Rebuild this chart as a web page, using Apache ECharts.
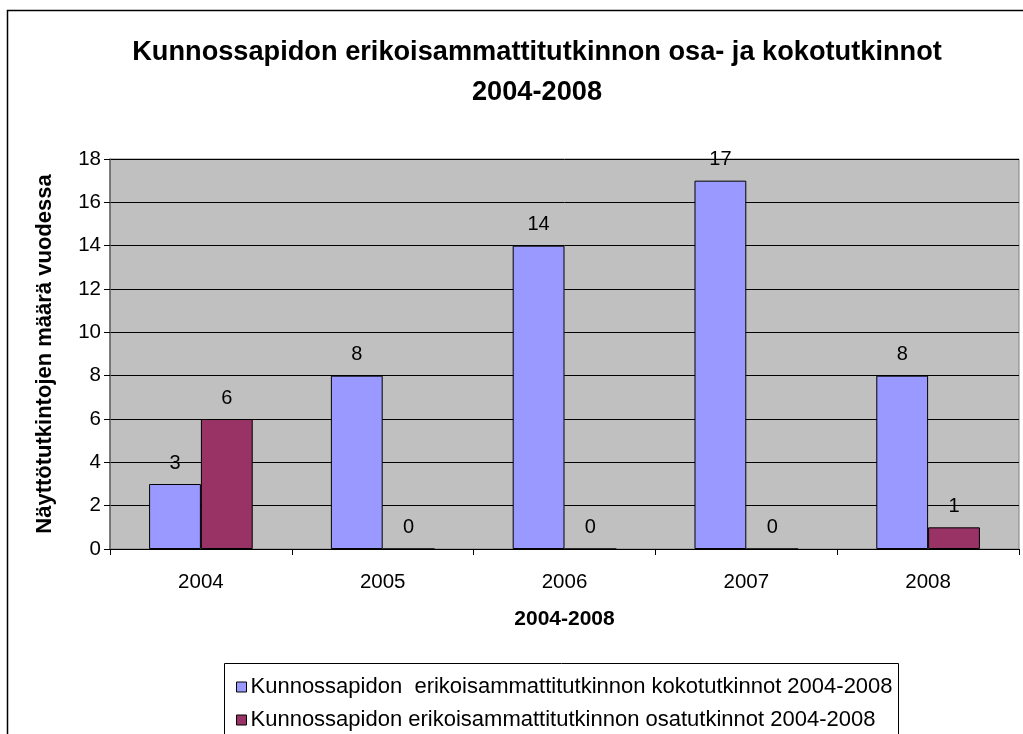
<!DOCTYPE html>
<html>
<head>
<meta charset="utf-8">
<script src="https://cdn.jsdelivr.net/npm/echarts@6/dist/echarts.min.js"></script>
<style>
html,body{margin:0;padding:0;background:#fff;}
#chart{width:1023px;height:734px;}
</style>
</head>
<body>
<div id="chart"></div>
<script>
const categories = ['2004', '2005', '2006', '2007', '2008'];
const kokoValues = [3, 8, 14, 17, 8];
const osaValues = [6, 0, 0, 0, 1];
const seriesNames = [
  'Kunnossapidon  erikoisammattitutkinnon kokotutkinnot 2004-2008',
  'Kunnossapidon erikoisammattitutkinnon osatutkinnot 2004-2008'
];
const titleText = 'Kunnossapidon erikoisammattitutkinnon osa- ja kokotutkinnot\n2004-2008';
const yAxisName = 'Näyttötutkintojen määrä vuodessa';
const xAxisName = '2004-2008';

const chart = echarts.init(document.getElementById('chart'), null, {renderer: 'canvas'});
const font = 'Liberation Sans, Arial, sans-serif';
const labelCfg = {show: true, position: 'top', distance: 11, color: '#000', fontSize: 20, fontFamily: font};
const legendBase = {
  orient: 'vertical', left: 231,
  itemWidth: 10, itemHeight: 10,
  textStyle: {fontFamily: font, fontSize: 22, color: '#000', padding: [0, 0, 0, -1]}
};

chart.setOption({
  backgroundColor: '#fff',
  animation: false,
  title: {
    text: titleText,
    left: 532, top: 28, textAlign: 'center',
    textStyle: {fontFamily: font, fontSize: 27.2, fontWeight: 'bold', color: '#000', lineHeight: 40}
  },
  grid: {left: 110, right: 4, top: 159, bottom: 185, show: true, backgroundColor: '#C0C0C0', borderColor: '#808080', borderWidth: 1},
  legend: seriesNames.map((n, i) => Object.assign({}, legendBase, {
    top: 671 + i * 33,
    data: [{name: n, icon: 'rect', itemStyle: {borderColor: '#000', borderWidth: 1}}]
  })),
  xAxis: {
    type: 'category', data: categories,
    name: xAxisName, nameLocation: 'middle', nameGap: 60,
    nameTextStyle: {fontFamily: font, fontSize: 21, fontWeight: 'bold', color: '#000'},
    axisLine: {lineStyle: {color: '#000', width: 1}},
    axisTick: {show: true, length: 6, lineStyle: {color: '#000'}},
    axisLabel: {fontFamily: font, fontSize: 20.5, color: '#000', margin: 23}
  },
  yAxis: {
    type: 'value', min: 0, max: 18, interval: 2,
    name: yAxisName, nameLocation: 'middle', nameGap: 54,
    nameTextStyle: {fontFamily: font, fontSize: 22, fontWeight: 'bold', color: '#000'},
    axisLine: {show: true, lineStyle: {color: '#666', width: 1.5}},
    axisTick: {show: true, length: 6, lineStyle: {color: '#000'}},
    axisLabel: {fontFamily: font, fontSize: 20.5, color: '#000', margin: 9},
    splitLine: {show: true, lineStyle: {color: '#000', width: 1}}
  },
  series: [
    {name: seriesNames[0], type: 'bar', data: kokoValues, barGap: '0%', barCategoryGap: '43%',
     itemStyle: {color: '#9999FF', borderColor: '#000', borderWidth: 1}, label: labelCfg},
    {name: seriesNames[1], type: 'bar', data: osaValues,
     itemStyle: {color: '#993366', borderColor: '#000', borderWidth: 1}, label: labelCfg}
  ],
  graphic: [
    {type: 'rect', shape: {x: 7.5, y: 10.5, width: 1030, height: 740}, style: {fill: null, stroke: '#000', lineWidth: 1.5}, silent: true},
    {type: 'rect', shape: {x: 224.5, y: 663.5, width: 674, height: 100}, style: {fill: null, stroke: '#000', lineWidth: 1}, silent: true, z: -1}
  ]
});
</script>
</body>
</html>
